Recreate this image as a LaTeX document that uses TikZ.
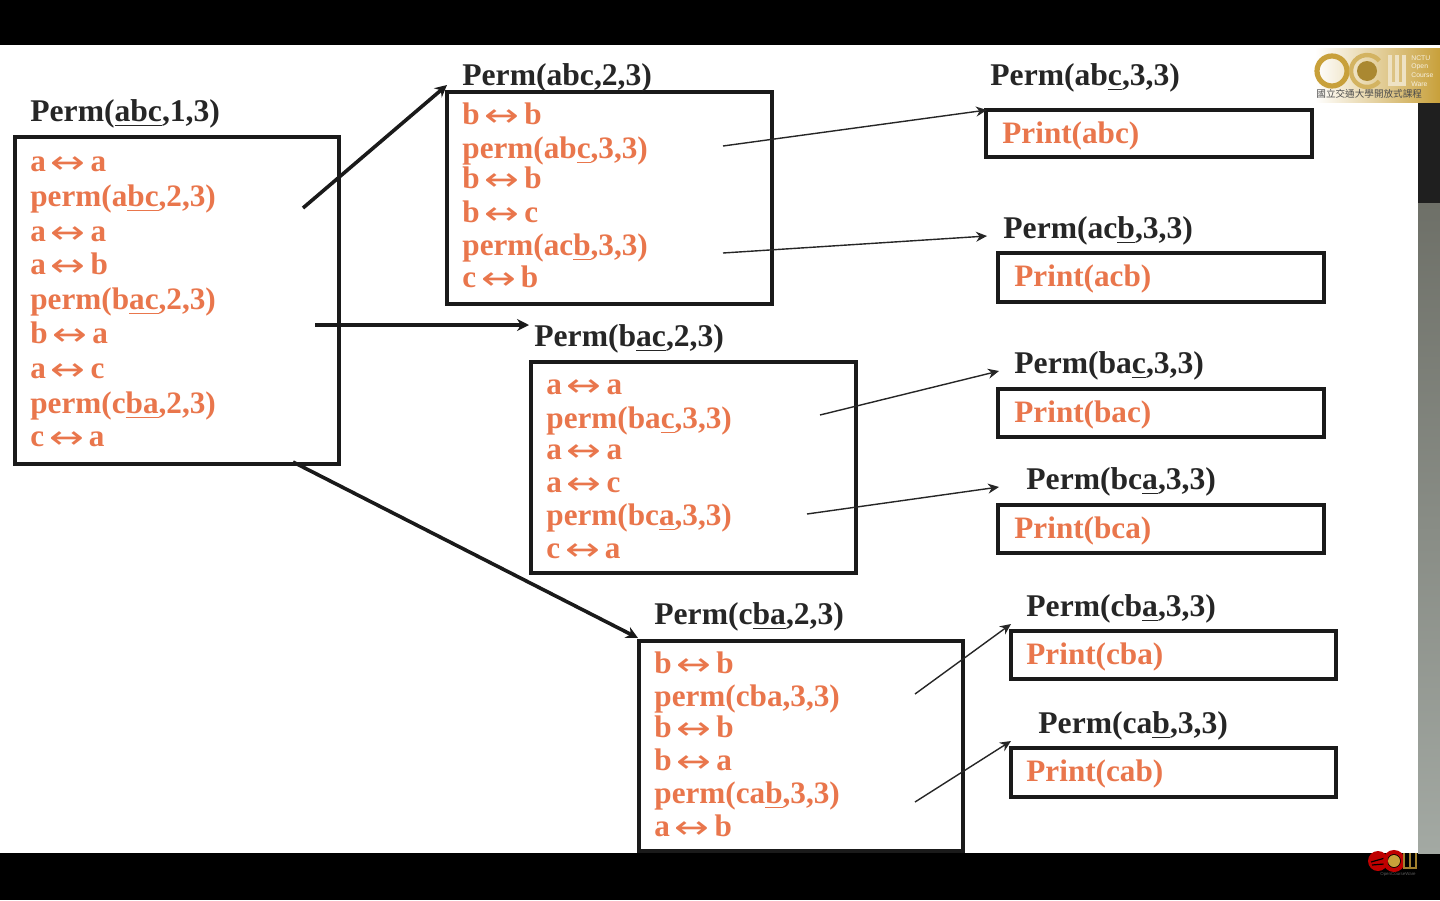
\documentclass[tikz,border=0pt]{standalone}
\usepackage{fontspec}
\setmainfont{Liberation Serif}
\newfontfamily\cjkfont{Noto Sans CJK TC}
\newfontfamily\sansf{Liberation Sans}
\newfontfamily\arrowf[FakeStretch=1.3]{DejaVu Sans}
\usetikzlibrary{arrows.meta}
\definecolor{org}{HTML}{E9764C}
\definecolor{ink}{HTML}{262626}
\definecolor{boxk}{HTML}{1A1A1A}
\definecolor{gold}{HTML}{C8A03A}
\definecolor{stripa}{HTML}{6E7068}
\definecolor{stripb}{HTML}{A3A9A3}
\newcommand\ulx[1]{\leavevmode\setbox0\hbox{#1}\rlap{\raise-2.2pt\hbox{\vrule width\wd0 height 0.4pt depth 0pt}}\box0}
\newcommand\ar{\kern2.4pt\smash{\raisebox{-1.3pt}{\arrowf\mdseries\fontsize{16}{18}\selectfont ↔}}\kern2.5pt}
\tikzset{
  ttl/.style={anchor=base west,inner sep=0pt,font=\fontsize{15.8}{18}\selectfont\bfseries,text=ink},
  ln/.style={anchor=base west,inner sep=0pt,yshift=-0.5pt,font=\fontsize{15.6}{18}\selectfont\bfseries,text=org},
  pbox/.style={draw=boxk,line width=1.9pt,anchor=north west,inner sep=0pt,outer sep=0pt},
  thick arrow/.style={draw=boxk,line width=1.8pt,-{Stealth[length=6pt,width=6pt]}},
  thin arrow/.style={draw=ink,line width=0.7pt,-{Stealth[length=5.5pt,width=5pt]}},
}
\newcommand\bx[5]{\node[pbox,minimum width=(#4-#2)*0.5pt,minimum height=(#5-#3)*0.5pt] (#1) at (#2,#3) {};}
\begin{document}
\begin{tikzpicture}[x=0.5pt,y=-0.5pt]
\useasboundingbox (0,0) rectangle (1440,900);
% frame
\fill[white] (0,0) rectangle (1440,900);
\fill[black] (0,0) rectangle (1440,45);
\fill[black] (0,853) rectangle (1440,900);
\fill[black!88] (1418,100) rectangle (1440,203);
\fill[top color=stripa,bottom color=stripb] (1418,203) rectangle (1440,853);
% top logo
\fill[left color=white,right color=gold] (1315,48) rectangle (1440,102);
\draw[gold,line width=2.6pt] (1332,71) circle[radius=15];
\draw[gold!80!white,line width=2.2pt] (1379.3,81.3) arc[start angle=40,end angle=320,radius=16];
\fill[gold!85!black] (1367,71) circle[radius=10];
\draw[white!70!gold,line width=1.6pt] (1390,55) -- (1390,84) -- (1404,84) -- (1404,55) (1397,55) -- (1397,84);
\node[anchor=west,inner sep=0pt,text=white!85!gold,align=left,font=\sansf\fontsize{3.4}{4.4}\selectfont] (ocwn) at (1411,71) {NCTU\\Open\\Course\\Ware};
\node[anchor=west,inner sep=0pt,text=black!70,font=\cjkfont\fontsize{4.8}{5}\selectfont] (ocwc) at (1316,94) {國立交通大學開放式課程};
% bottom logo
\fill[red!75!black] (1378,861) circle[radius=10];
\draw[black,line width=0.6pt] (1371,862) -- (1385,858) (1372,865) -- (1384,864);
\draw[red!75!black,line width=2pt] (1394,861) circle[radius=9];
\fill[gold] (1394,861) circle[radius=6];
\draw[gold!80!black,line width=1.2pt] (1404,853) -- (1404,868) -- (1416,868) -- (1416,853) (1410,853) -- (1410,868);
\node[anchor=center,inner sep=0pt,text=black!65,font=\sansf\fontsize{2.2}{3}\selectfont] (ocwb) at (1398,874) {OpenCourseWare};
% boxes
\bx{b1}{15}{137}{339}{464}
\bx{b2}{447}{92}{772}{304}
\bx{b3}{531}{362}{856}{573}
\bx{b4}{639}{641}{963}{851}
\bx{r1}{986}{110}{1312}{157}
\bx{r2}{998}{253}{1324}{302}
\bx{r3}{998}{389}{1324}{437}
\bx{r4}{998}{505}{1324}{553}
\bx{r5}{1011}{631}{1336}{679}
\bx{r6}{1011}{748}{1336}{797}
% box 1
\node[ttl] (t1) at (30,121) {Perm(\ulx{abc},1,3)};
\node[ln] (a1) at (30,170) {a\ar a};
\node[ln] (a2) at (30,205) {perm(a\ulx{bc},2,3)};
\node[ln] (a3) at (30,240) {a\ar a};
\node[ln] (a4) at (30,273) {a\ar b};
\node[ln] (a5) at (30,308) {perm(b\ulx{ac},2,3)};
\node[ln] (a6) at (30,342) {b\ar a};
\node[ln] (a7) at (30,377) {a\ar c};
\node[ln] (a8) at (30,412) {perm(c\ulx{ba},2,3)};
\node[ln] (a9) at (30,445) {c\ar a};
% box 2
\node[ttl] (t2) at (462,85) {Perm(abc,2,3)};
\node[ln] (c1) at (462,123) {b\ar b};
\node[ln] (c2) at (462,157) {perm(ab\ulx{c},3,3)};
\node[ln] (c3) at (462,187) {b\ar b};
\node[ln] (c4) at (462,221) {b\ar c};
\node[ln] (c5) at (462,254) {perm(ac\ulx{b},3,3)};
\node[ln] (c6) at (462,286) {c\ar b};
% box 3
\node[ttl] (t3) at (534,346) {Perm(b\ulx{ac},2,3)};
\node[ln] (d1) at (546,393) {a\ar a};
\node[ln] (d2) at (546,427) {perm(ba\ulx{c},3,3)};
\node[ln] (d3) at (546,458) {a\ar a};
\node[ln] (d4) at (546,491) {a\ar c};
\node[ln] (d5) at (546,524) {perm(bc\ulx{a},3,3)};
\node[ln] (d6) at (546,557) {c\ar a};
% box 4
\node[ttl] (t4) at (654,624) {Perm(c\ulx{ba},2,3)};
\node[ln] (e1) at (654,672) {b\ar b};
\node[ln] (e2) at (654,705) {perm(cba,3,3)};
\node[ln] (e3) at (654,736) {b\ar b};
\node[ln] (e4) at (654,769) {b\ar a};
\node[ln] (e5) at (654,802) {perm(ca\ulx{b},3,3)};
\node[ln] (e6) at (654,835) {a\ar b};
% leaves
\node[ttl] (u1) at (990,85) {Perm(ab\ulx{c},3,3)};
\node[ln] (p1) at (1002,142) {Print(abc)};
\node[ttl] (u2) at (1003,238) {Perm(ac\ulx{b},3,3)};
\node[ln] (p2) at (1014,285) {Print(acb)};
\node[ttl] (u3) at (1014,373) {Perm(ba\ulx{c},3,3)};
\node[ln] (p3) at (1014,421) {Print(bac)};
\node[ttl] (u4) at (1026,489) {Perm(bc\ulx{a},3,3)};
\node[ln] (p4) at (1014,537) {Print(bca)};
\node[ttl] (u5) at (1026,616) {Perm(cb\ulx{a},3,3)};
\node[ln] (p5) at (1026,663) {Print(cba)};
\node[ttl] (u6) at (1038,733) {Perm(ca\ulx{b},3,3)};
\node[ln] (p6) at (1026,780) {Print(cab)};
% connector ends
\coordinate (s1) at (303,208); \coordinate (e1c) at (447,85);
\coordinate (s2) at (315,325); \coordinate (e2c) at (529,325);
\coordinate (s3) at (293,462); \coordinate (e3c) at (638,638);
\coordinate (s4) at (723,146); \coordinate (e4c) at (987,110);
\coordinate (s5) at (723,253); \coordinate (e5c) at (987,236);
\coordinate (s6) at (820,415); \coordinate (e6c) at (999,371);
\coordinate (s7) at (807,514); \coordinate (e7c) at (999,487);
\coordinate (s8) at (915,694); \coordinate (e8c) at (1011,624);
\coordinate (s9) at (915,802); \coordinate (e9c) at (1011,741);
\draw[thick arrow] (s1) -- (e1c);
\draw[thick arrow] (s2) -- (e2c);
\draw[thick arrow] (s3) -- (e3c);
\draw[thin arrow] (s4) -- (e4c);
\draw[thin arrow] (s5) -- (e5c);
\draw[thin arrow] (s6) -- (e6c);
\draw[thin arrow] (s7) -- (e7c);
\draw[thin arrow] (s8) -- (e8c);
\draw[thin arrow] (s9) -- (e9c);
\end{tikzpicture}
\end{document}
